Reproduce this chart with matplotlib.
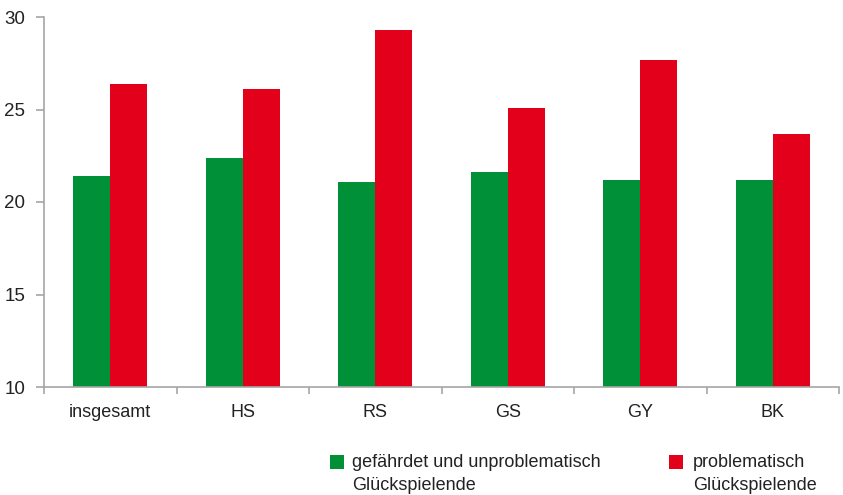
import matplotlib
matplotlib.use("Agg")
import matplotlib.pyplot as plt
from matplotlib.patches import Rectangle
import numpy as np

categories = ["insgesamt", "HS", "RS", "GS", "GY", "BK"]
gefaehrdet = [21.4, 22.4, 21.1, 21.6, 21.2, 21.2]
problematisch = [26.4, 26.1, 29.3, 25.1, 27.7, 23.7]
legend_labels = ["gefährdet und unproblematisch\nGlückspielende", "problematisch\nGlückspielende"]
yticks = [10, 15, 20, 25, 30]

GREEN = "#009037"
RED = "#E2001A"
GREY = "#A6A6A6"
TXT = "#222222"

plt.rcParams['font.family'] = ['Liberation Sans', 'DejaVu Sans']

W, H = 843, 495
fig = plt.figure(figsize=(W / 100, H / 100), dpi=100)
ax = fig.add_axes([44 / W, 1 - 387 / H, (839 - 44) / W, (387 - 17) / H])

x = np.arange(len(categories))
bw = 0.28
ax.bar(x - bw / 2, gefaehrdet, width=bw, bottom=0, color=GREEN, linewidth=0)
ax.bar(x + bw / 2, problematisch, width=bw, bottom=0, color=RED, linewidth=0)

ax.set_ylim(10, 30)
ax.set_xlim(-0.5, len(categories) - 0.5)
ax.set_yticks(yticks)
ax.set_yticklabels([str(v) for v in yticks], fontsize=13.5, color=TXT)

ax.set_xticks(np.arange(len(categories) + 1) - 0.5)
ax.set_xticklabels([])
ax.set_xticks(x, minor=True)
ax.set_xticklabels(categories, minor=True, fontsize=13, color=TXT)
ax.tick_params(axis='x', which='minor', length=0, pad=12)
ax.tick_params(axis='x', which='major', length=5, color=GREY, width=1.2)
ax.tick_params(axis='y', length=5.5, color=GREY, width=1.2, pad=8)

for s in ["top", "right"]:
    ax.spines[s].set_visible(False)
for s in ["left", "bottom"]:
    ax.spines[s].set_color(GREY)
    ax.spines[s].set_linewidth(1.2)

# legend
items = [(330, GREEN, legend_labels[0], 352), (669, RED, legend_labels[1], 693)]
for px, col, lab, tx in items:
    fig.patches.append(Rectangle((px / W, 1 - 469 / H), 14 / W, 14 / H,
                                 transform=fig.transFigure, color=col, linewidth=0))
    fig.text(tx / W, 1 - 454 / H, lab, fontsize=13, va='top', ha='left',
             linespacing=1.5, color=TXT)

fig.savefig("out.png", dpi=100)
